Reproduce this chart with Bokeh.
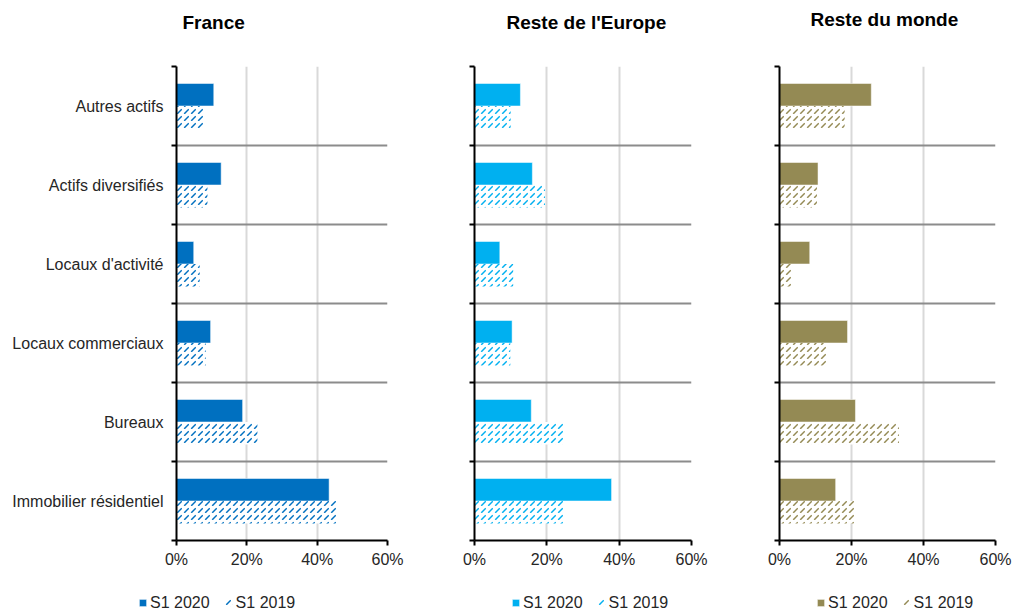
from bokeh.plotting import figure
from bokeh.layouts import row, column
from bokeh.models import (Range1d, FixedTicker, PrintfTickFormatter, Legend,
                          LegendItem, Label, ColumnDataSource)
from bokeh.embed import file_html
from bokeh.resources import INLINE

# ---------------- data ----------------
categories = ["Autres actifs", "Actifs diversifiés", "Locaux d'activité",
              "Locaux commerciaux", "Bureaux", "Immobilier résidentiel"]
series_names = ["S1 2020", "S1 2019"]
regions = ["France", "Reste de l'Europe", "Reste du monde"]

france_2020 = [10.6, 12.7, 4.9, 9.7, 18.8, 43.4]
france_2019 = [7.8, 8.8, 6.6, 8.3, 23.0, 45.5]
europe_2020 = [12.7, 16.0, 7.0, 10.4, 15.7, 37.9]
europe_2019 = [10.0, 19.5, 10.7, 9.9, 24.7, 24.7]
monde_2020 = [25.5, 10.7, 8.4, 18.9, 21.1, 15.6]
monde_2019 = [18.1, 10.4, 3.5, 13.2, 33.2, 20.7]

x_ticks = [0, 20, 40, 60]

FONT = "Liberation Sans"
TEXT_COLOR = "#262626"
W = 1014
TOP_H = 44
MAIN_H = 536
BOT_H = 30

panels = [
    dict(title=regions[0], v20=france_2020, v19=france_2019, color="#0070C0",
         width=430, left=176, right=43, tx=182, tbase=21.8, lx=138, labels=True),
    dict(title=regions[1], v20=europe_2020, v19=europe_2019, color="#00B0F0",
         width=305, left=44, right=44, tx=506, tbase=21.8, lx=511, labels=False),
    dict(title=regions[2], v20=monde_2020, v19=monde_2019, color="#948A54",
         width=279, left=44, right=19, tx=810, tbase=18.8, lx=816, labels=False),
]

n = len(categories)
y_center = [n - 0.5 - i for i in range(n)]
BAR_H = 0.285
OFF = BAR_H / 2


def strip(height):
    s = figure(width=W, height=height, output_backend="svg", toolbar_location=None,
               x_range=Range1d(0, W), y_range=Range1d(0, height),
               x_axis_location=None, y_axis_location=None, min_border=0)
    s.outline_line_color = None
    s.background_fill_color = "white"
    s.border_fill_color = "white"
    s.xgrid.visible = False
    s.ygrid.visible = False
    return s


top = strip(TOP_H)
bottom = strip(BOT_H)

figs = []
for cfg in panels:
    p = figure(width=cfg["width"], height=MAIN_H, output_backend="svg",
               toolbar_location=None, x_range=Range1d(0, 60), y_range=Range1d(0, n),
               min_border_left=cfg["left"], min_border_right=cfg["right"],
               min_border_top=66 - TOP_H, min_border_bottom=MAIN_H - (66 - TOP_H) - 474)
    p.outline_line_color = None
    p.background_fill_color = "white"
    p.border_fill_color = "white"

    src20 = ColumnDataSource(dict(y=[c + OFF for c in y_center], v=cfg["v20"], cat=categories))
    src19 = ColumnDataSource(dict(y=[c - OFF for c in y_center], v=cfg["v19"], cat=categories))

    style20 = dict(fill_color=cfg["color"], line_color="white", line_alpha=0.5, line_width=1)
    style19 = dict(fill_color="white", line_color=None, hatch_pattern=",",
                   hatch_scale=7, hatch_weight=1.5, hatch_color=cfg["color"])
    p.hbar(y="y", right="v", left=0, height=BAR_H, source=src20, **style20)
    p.hbar(y="y", right="v", left=0, height=BAR_H, source=src19, **style19)

    # x axis
    xa = p.xaxis[0]
    xa.ticker = FixedTicker(ticks=x_ticks)
    xa.formatter = PrintfTickFormatter(format="%d%%")
    xa.axis_line_color = "black"
    xa.axis_line_width = 2
    xa.major_tick_line_color = "black"
    xa.major_tick_line_width = 2
    xa.major_tick_in = 0
    xa.major_tick_out = 5
    xa.minor_tick_line_color = None
    xa.major_label_standoff = 5
    xa.major_label_text_font = FONT
    xa.major_label_text_font_size = "16px"
    xa.major_label_text_color = TEXT_COLOR

    # y axis
    ya = p.yaxis[0]
    ya.ticker = FixedTicker(ticks=y_center, minor_ticks=list(range(n + 1)))
    if cfg["labels"]:
        ya.major_label_overrides = {y_center[i]: categories[i] for i in range(n)}
    else:
        ya.major_label_overrides = {y_center[i]: "" for i in range(n)}
    ya.axis_line_color = "black"
    ya.axis_line_width = 2
    ya.major_tick_line_color = None
    ya.major_tick_in = 0
    ya.major_tick_out = 0
    ya.minor_tick_line_color = "black"
    ya.minor_tick_line_width = 2
    ya.minor_tick_in = 0
    ya.minor_tick_out = 5
    ya.major_label_standoff = 8
    ya.major_label_text_font = FONT
    ya.major_label_text_font_size = "16px"
    ya.major_label_text_color = TEXT_COLOR

    # grids
    p.xgrid.ticker = FixedTicker(ticks=x_ticks[1:])
    p.xgrid.grid_line_color = "#D9D9D9"
    p.xgrid.grid_line_width = 2
    p.ygrid.ticker = FixedTicker(ticks=list(range(1, n + 1)))
    p.ygrid.grid_line_color = "#8C8C8C"
    p.ygrid.grid_line_width = 2
    figs.append(p)

    # panel title (top strip)
    top.add_layout(Label(x=cfg["tx"], y=TOP_H - cfg["tbase"], x_units="screen", y_units="screen",
                         text=cfg["title"], text_font=FONT, text_font_size="19px",
                         text_font_style="bold", text_color="black",
                         text_align="left", text_baseline="alphabetic"))

    # legend (bottom strip); zero-size proxy bars carry the series styles
    l20 = bottom.hbar(y=[0], right=[0], left=0, height=0, **style20)
    l19 = bottom.hbar(y=[0], right=[0], left=0, height=0, **style19)
    bottom.add_layout(Legend(items=[LegendItem(label=series_names[0], renderers=[l20]),
                                    LegendItem(label=series_names[1], renderers=[l19])],
                             location=(cfg["lx"], -1.5), orientation="horizontal",
                             border_line_color=None, background_fill_alpha=0,
                             padding=0, margin=0, spacing=14, label_standoff=3,
                             glyph_width=9, glyph_height=9, label_height=18,
                             label_text_font=FONT, label_text_font_size="16px",
                             label_text_color=TEXT_COLOR))

layout = column(top, row(*figs, spacing=0), bottom, spacing=0)
open("out.html", "w").write(file_html(layout, INLINE))
